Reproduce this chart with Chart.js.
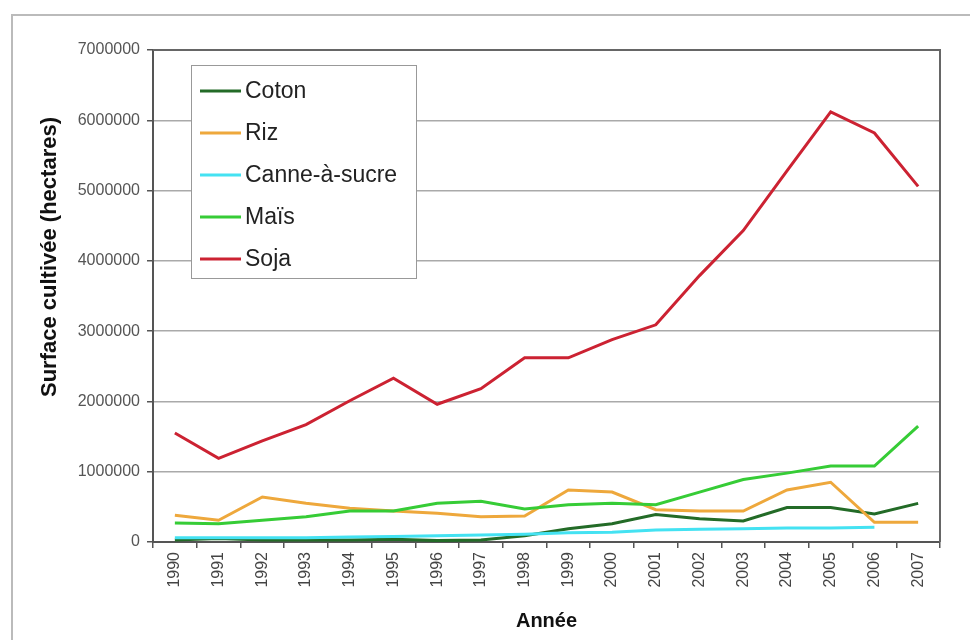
<!DOCTYPE html>
<html>
<head>
<meta charset="utf-8">
<script src="https://cdn.jsdelivr.net/npm/chart.js@4"></script>
<style>
  html, body { margin: 0; padding: 0; background: #fff; }
  #wrap { width: 970px; height: 640px; position: relative; }
</style>
</head>
<body>
<div id="wrap"><canvas id="chart"></canvas></div>
<script>
const years = ["1990", "1991", "1992", "1993", "1994", "1995", "1996", "1997", "1998",
  "1999", "2000", "2001", "2002", "2003", "2004", "2005", "2006", "2007"];

const seriesNames = ["Coton", "Riz", "Canne-à-sucre", "Maïs", "Soja"];
const seriesColors = ["#236b27", "#eea83c", "#44e2f2", "#36cc36", "#cc2232"];

const coton = [30000, 50000, 30000, 30000, 30000, 40000, 20000, 30000, 90000,
  190000, 260000, 390000, 330000, 300000, 490000, 490000, 400000, 550000];
const riz = [380000, 310000, 640000, 550000, 480000, 440000, 410000, 360000, 370000,
  740000, 710000, 460000, 440000, 440000, 740000, 850000, 280000, 280000];
const canne = [60000, 60000, 60000, 60000, 70000, 80000, 90000, 100000, 110000,
  130000, 140000, 170000, 180000, 190000, 200000, 200000, 210000, null];
const mais = [270000, 260000, 310000, 360000, 440000, 440000, 550000, 580000, 470000,
  530000, 550000, 530000, 710000, 890000, 980000, 1080000, 1080000, 1650000];
const soja = [1550000, 1190000, 1440000, 1670000, 2010000, 2330000, 1960000, 2180000, 2620000,
  2620000, 2880000, 3090000, 3790000, 4430000, 5280000, 6120000, 5820000, 5060000];

const yMin = 0, yMax = 7000000, yStep = 1000000;
const yTitle = "Surface cultivée (hectares)";
const xTitle = "Année";

const values = [coton, riz, canne, mais, soja];
const datasets = values.map((v, i) => ({
  label: seriesNames[i],
  data: v,
  borderColor: seriesColors[i],
  backgroundColor: seriesColors[i],
  borderWidth: 3,
  pointRadius: 0,
  tension: 0,
  order: values.length - i, // later series on top
}));

// frame, plot border, y title and the boxed legend
const decor = {
  id: "decor",
  beforeDraw(chart) {
    const ctx = chart.ctx;
    ctx.save();
    ctx.strokeStyle = "#bbb";
    ctx.lineWidth = 2;
    ctx.strokeRect(12, 15, 980, 660);
    ctx.restore();
  },
  afterDatasetsDraw(chart) {
    const ctx = chart.ctx;
    const a = chart.chartArea;
    ctx.save();
    ctx.strokeStyle = "#666";
    ctx.lineWidth = 2;
    ctx.beginPath();
    ctx.moveTo(a.left, a.top);
    ctx.lineTo(a.right, a.top);
    ctx.lineTo(a.right, a.bottom);
    ctx.stroke();

    // y title
    ctx.translate(50, 257);
    ctx.rotate(-Math.PI / 2);
    ctx.font = "bold 22px 'Liberation Sans', Arial, sans-serif";
    ctx.fillStyle = "#111";
    ctx.textAlign = "center";
    ctx.textBaseline = "middle";
    ctx.fillText(yTitle, 0, 0);
    ctx.restore();

    // legend
    ctx.save();
    const bx = 191, by = 65, bw = 225, bh = 213;
    ctx.fillStyle = "#fff";
    ctx.fillRect(bx, by, bw, bh);
    ctx.strokeStyle = "#999";
    ctx.lineWidth = 1;
    ctx.strokeRect(bx + 0.5, by + 0.5, bw, bh);
    ctx.font = "23px 'Liberation Sans', Arial, sans-serif";
    ctx.textBaseline = "middle";
    ctx.textAlign = "left";
    chart.data.datasets.forEach((ds, i) => {
      const y = by + 26 + i * 42;
      ctx.strokeStyle = ds.borderColor;
      ctx.lineWidth = 3;
      ctx.beginPath();
      ctx.moveTo(bx + 9, y);
      ctx.lineTo(bx + 50, y);
      ctx.stroke();
      ctx.fillStyle = "#222";
      ctx.fillText(ds.label, bx + 54, y + 1);
    });
    ctx.restore();
  }
};

new Chart(document.getElementById("chart"), {
  type: "line",
  plugins: [decor],
  data: {
    labels: years,
    datasets: datasets,
  },
  options: {
    responsive: true,
    maintainAspectRatio: false,
    animation: false,
    layout: {
      padding: { top: 50, right: 30, left: 0, bottom: 0 },
    },
    plugins: {
      legend: { display: false },
      tooltip: { enabled: false },
    },
    scales: {
      x: {
        type: "category",
        offset: true,
        afterFit: (s) => { s.height = 98; },
        grid: {
          offset: true,
          drawOnChartArea: false,
          drawTicks: true,
          tickLength: 6,
          color: "#555",
          lineWidth: 1.5,
        },
        border: { color: "#555", width: 2 },
        ticks: {
          minRotation: 90,
          maxRotation: 90,
          autoSkip: false,
          padding: 4,
          color: "#444",
          font: { family: "'Liberation Sans', Arial, sans-serif", size: 16 },
        },
        title: {
          display: true,
          text: xTitle,
          color: "#111",
          padding: { top: 0, bottom: 7 },
          font: { family: "'Liberation Sans', Arial, sans-serif", size: 20, weight: "bold" },
        },
      },
      y: {
        min: yMin,
        max: yMax,
        afterFit: (s) => { s.width = 153; },
        grid: {
          color: "#aaa",
          lineWidth: 1.5,
          tickLength: 6,
          tickColor: "#555",
        },
        border: { color: "#555", width: 2 },
        ticks: {
          stepSize: yStep,
          padding: 7,
          color: "#555",
          font: { family: "'Liberation Sans', Arial, sans-serif", size: 16 },
          callback: (v) => String(v),
        },
      },
    },
  },
});
</script>
</body>
</html>
